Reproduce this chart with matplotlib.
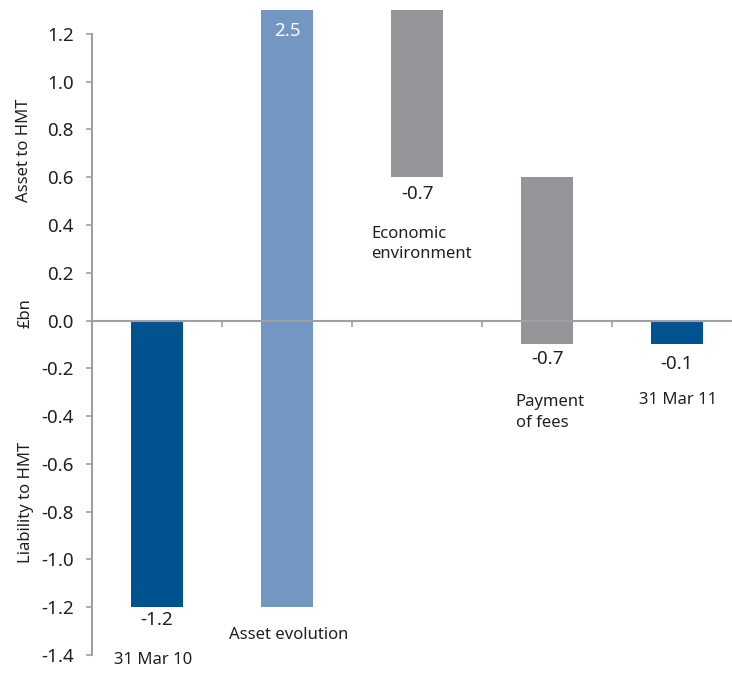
import numpy as np
import matplotlib
matplotlib.use("Agg")
import matplotlib.pyplot as plt

# Movement in the position with HMT, £bn
steps = ["31 Mar 10", "Asset evolution", "Economic\nenvironment", "Payment\nof fees", "31 Mar 11"]
values = [-1.2, 2.5, -0.7, -0.7, -0.1]
is_total = [True, False, False, False, True]
yticks = [-1.4, -1.2, -1.0, -0.8, -0.6, -0.4, -0.2, 0.0, 0.2, 0.4, 0.6, 0.8, 1.0, 1.2]

DARK = "#02528f"
LIGHT = "#7396c3"
GREY = "#939598"
AXIS = "#a0a0a4"
INK = "#231f20"

plt.rcParams["font.family"] = ["Noto Sans", "DejaVu Sans"]

# waterfall bottoms: totals sit on zero, deltas start where the running sum is
bottoms = []
running = 0.0
for v, tot in zip(values, is_total):
    if tot:
        bottoms.append(0.0)
        running = v
    else:
        bottoms.append(running)
        running += v
colors = [DARK, LIGHT, GREY, GREY, DARK]

fig = plt.figure(figsize=(7.32, 6.73), dpi=100)
ax = fig.add_axes([92 / 732, 18 / 673, 1 - 92 / 732, 645 / 673])

x = np.arange(len(values))
ax.bar(x, values, bottom=bottoms, width=0.4, color=colors, zorder=2)

ax.set_xlim(-0.5, (732 - 92) / 130 - 0.5)
ax.set_ylim(-1.4, 1.3)

for s in ["top", "right"]:
    ax.spines[s].set_visible(False)
ax.spines["left"].set_bounds(-1.4, 1.2)
ax.spines["left"].set_color(AXIS)
ax.spines["left"].set_linewidth(1.5)
ax.spines["bottom"].set_position(("data", 0))
ax.spines["bottom"].set_color(AXIS)
ax.spines["bottom"].set_linewidth(1.5)
ax.spines["bottom"].set_zorder(3)

fs = 13.5
lfs = 12

ax.set_yticks(yticks)
ax.set_yticklabels([f"{t:.1f}" for t in yticks])
ax.tick_params(axis="y", direction="out", length=4, width=1.2, color=AXIS,
               labelsize=fs, labelcolor=INK, pad=9)
ax.set_xticks(np.arange(-0.5, len(values) - 0.5, 1.0))
ax.set_xticklabels([])
ax.tick_params(axis="x", direction="out", length=4, width=1.2, color=AXIS)

# value labels
ax.text(1, 1.21, "2.5", color="white", ha="center", va="center", fontsize=fs)
ax.text(0, -1.254, "-1.2", color=INK, ha="center", va="center", fontsize=fs)
ax.text(2, 0.531, "-0.7", color=INK, ha="center", va="center", fontsize=fs)
ax.text(3, -0.159, "-0.7", color=INK, ha="center", va="center", fontsize=fs)
ax.text(4, -0.18, "-0.1", color=INK, ha="center", va="center", fontsize=fs)

# step names
ax.text(-0.03, -1.421, steps[0], color=INK, ha="center", va="center", fontsize=lfs, clip_on=False)
ax.text(1.01, -1.317, steps[1], color=INK, ha="center", va="center", fontsize=lfs)
ax.text(1.646, 0.32, steps[2], color=INK, ha="left", va="center", fontsize=lfs, linespacing=1.35)
ax.text(2.76, -0.385, steps[3], color=INK, ha="left", va="center", fontsize=lfs, linespacing=1.35)
ax.text(4.01, -0.334, steps[4], color=INK, ha="center", va="center", fontsize=lfs)

# side captions
fig.text(24 / 732, 1 - 150 / 673, "Asset to HMT", rotation=90, ha="center", va="center",
         fontsize=lfs, color=INK)
fig.text(26 / 732, 1 - 313 / 673, "£bn", rotation=90, ha="center", va="center",
         fontsize=lfs, color=INK)
fig.text(26 / 732, 1 - 502 / 673, "Liability to HMT", rotation=90, ha="center", va="center",
         fontsize=lfs, color=INK)

fig.savefig("out.png", dpi=100)
